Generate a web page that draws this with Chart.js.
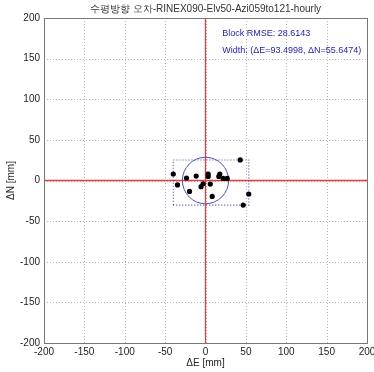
<!DOCTYPE html>
<html><head><meta charset="utf-8">
<script src="https://cdn.jsdelivr.net/npm/chart.js@4/dist/chart.umd.min.js"></script>
<style>html,body{margin:0;padding:0;background:#fff}#wrap{width:374px;height:372px}</style>
</head><body><div id="wrap"><canvas id="c" width="374" height="372"></canvas></div>
<script>
const titleText = '수평방향 오차-RINEX090-Elv50-Azi059to121-hourly';
const eastErr  = [43.0, -39.9, -34.7, -23.5, -11.5, 3.3, 3.3, 17.7, 16.5, 21.9, 26.9, -3.0, -5.5, 5.9, -19.8, 8.3, 53.6, 46.7];
const northErr = [25.3, 8.0, -5.5, 3.1, 5.5, 8.0, 5.0, 8.0, 5.0, 2.6, 2.6, -4.0, -7.6, -4.4, -13.4, -19.6, -16.6, -30.3];
const axisTicks = [-200, -150, -100, -50, 0, 50, 100, 150, 200];
const blockRMSE = 28.6143;
const widthE = 93.4998, widthN = 55.6474;
const labelRMSE = 'Block RMSE: ' + blockRMSE.toFixed(4);
const labelWidth = 'Width: (ΔE=' + widthE.toFixed(4) + ', ΔN=' + widthN.toFixed(4) + ')';

const pts = eastErr.map((e, i) => ({x: e, y: northErr[i]}));
const minE = Math.min(...eastErr), maxE = Math.max(...eastErr);
const minN = Math.min(...northErr), maxN = Math.max(...northErr);
const boxPts = [{x:minE,y:minN},{x:maxE,y:minN},{x:maxE,y:maxN},{x:minE,y:maxN},{x:minE,y:minN}];
const FONT = '"Liberation Sans", Arial, sans-serif';

const extras = {
  id: 'extras',
  beforeDatasetsDraw(chart) {
    const {ctx, chartArea:a, scales:{x, y}} = chart;
    ctx.save();
    // dotted grid
    ctx.strokeStyle = '#b4b4b4';
    ctx.lineWidth = 1;
    ctx.setLineDash([1, 2]);
    ctx.beginPath();
    x.ticks.forEach(t => {
      const px = Math.round(x.getPixelForValue(t.value)) + 0.5;
      ctx.moveTo(px, a.top); ctx.lineTo(px, a.bottom);
    });
    y.ticks.forEach(t => {
      const py = Math.round(y.getPixelForValue(t.value)) + 0.5;
      ctx.moveTo(a.left, py); ctx.lineTo(a.right, py);
    });
    ctx.stroke();
    ctx.setLineDash([]);
    // RMSE circle
    const cx = x.getPixelForValue(0), cy = y.getPixelForValue(0);
    const rx = x.getPixelForValue(blockRMSE) - cx;
    const ry = cy - y.getPixelForValue(blockRMSE);
    ctx.strokeStyle = '#5050c0';
    ctx.lineWidth = 1;
    ctx.beginPath();
    ctx.ellipse(cx, cy, rx, ry, 0, 0, Math.PI * 2);
    ctx.stroke();
    ctx.restore();
  },
  afterDraw(chart) {
    const {ctx, chartArea:a, scales:{x, y}} = chart;
    ctx.save();
    ctx.strokeStyle = '#777';
    ctx.lineWidth = 1;
    ctx.strokeRect(Math.round(a.left) + 0.5, Math.round(a.top) + 0.5, Math.round(a.right - a.left), Math.round(a.bottom - a.top));
    ctx.fillStyle = '#2424a8';
    ctx.font = '9px ' + FONT;
    ctx.textAlign = 'left';
    ctx.textBaseline = 'middle';
    const tx = x.getPixelForValue(20.7);
    ctx.fillText(labelRMSE, tx, y.getPixelForValue(181));
    ctx.fillText(labelWidth, tx, y.getPixelForValue(160));
    ctx.restore();
  }
};

function fixX(s) { s.height = 29; s.paddingLeft = 0; s.paddingRight = 0; }
function fixY(s) { s.width = 44; s.paddingTop = 0; s.paddingBottom = 0; }

new Chart(document.getElementById('c'), {
  type: 'scatter',
  data: {
    datasets: [
      {data: pts, backgroundColor: '#000', borderColor: '#000', pointRadius: 2.6, pointHoverRadius: 2.6, pointBorderWidth: 0},
      {data: boxPts, showLine: true, pointRadius: 0, borderColor: '#4848b4', borderWidth: 1.1, borderDash: [1, 2], fill: false},
      {data: [{x: axisTicks[0], y: 0}, {x: axisTicks[axisTicks.length-1], y: 0}], showLine: true, pointRadius: 0, borderColor: '#e04040', borderWidth: 1.3},
      {data: [{x: 0, y: axisTicks[0]}, {x: 0, y: axisTicks[axisTicks.length-1]}], showLine: true, pointRadius: 0, borderColor: '#e04040', borderWidth: 1.3}
    ]
  },
  options: {
    responsive: false,
    animation: false,
    events: [],
    layout: {padding: {left: 0, right: 7, top: 0, bottom: 0}},
    plugins: {
      legend: {display: false},
      tooltip: {enabled: false},
      title: {display: true, text: titleText, fullSize: false, color: '#333', font: {family: FONT, size: 10, weight: 'normal'}, padding: {top: 3, bottom: 3}}
    },
    scales: {
      x: {
        type: 'linear', min: axisTicks[0], max: axisTicks[axisTicks.length-1],
        afterBuildTicks: s => { s.ticks = axisTicks.map(v => ({value: v})); },
        afterFit: fixX,
        grid: {display: false, drawTicks: false},
        border: {display: false},
        ticks: {color: '#222', font: {family: FONT, size: 10}, padding: 3, maxRotation: 0, autoSkip: false},
        title: {display: true, text: 'ΔE [mm]', color: '#222', font: {family: FONT, size: 10}, padding: {top: 0, bottom: 3}}
      },
      y: {
        type: 'linear', min: axisTicks[0], max: axisTicks[axisTicks.length-1],
        afterBuildTicks: s => { s.ticks = axisTicks.map(v => ({value: v})); },
        afterFit: fixY,
        grid: {display: false, drawTicks: false},
        border: {display: false},
        ticks: {color: '#222', font: {family: FONT, size: 10}, padding: 4, autoSkip: false},
        title: {display: true, text: 'ΔN [mm]', color: '#222', font: {family: FONT, size: 10}, padding: {top: 5, bottom: 0}}
      }
    }
  },
  plugins: [extras]
});
</script>
</body></html>
